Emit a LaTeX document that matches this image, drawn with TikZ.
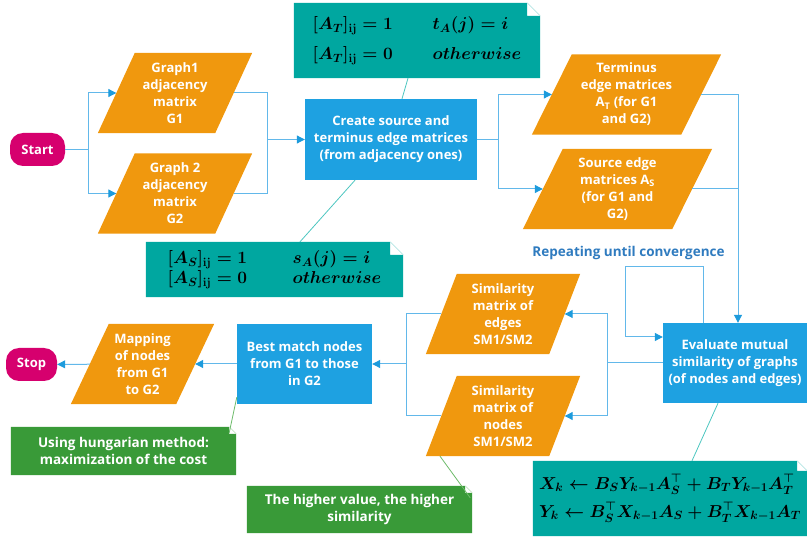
\documentclass[tikz,border=0pt]{standalone}
\usepackage[no-math]{fontspec}
\setmainfont{Open Sans}
\usetikzlibrary{arrows.meta,backgrounds,calc}
\definecolor{cOrange}{HTML}{F0980E}
\definecolor{cBox}{HTML}{1EA1E1}
\definecolor{cTeal}{HTML}{00A7A0}
\definecolor{cGreen}{HTML}{399A38}
\definecolor{cMag}{HTML}{D6006E}
\definecolor{cRep}{HTML}{2F7BBF}
\definecolor{cLine}{HTML}{62B8EA}
\definecolor{cArrow}{HTML}{1D9BDC}
\definecolor{cTline}{HTML}{4CC6C0}
\definecolor{cGline}{HTML}{6DBB6A}
\newcommand\dogear[3]{%
  \begin{scope}[on background layer]
    \fill[#2] (#1.south west) -- (#1.north west) -- ([xshift=-#3pt]#1.north east)
      -- ([shift={(-#3pt,-#3pt)}]#1.north east) -- ([yshift=-#3pt]#1.north east)
      -- (#1.south east) -- cycle;
    \draw[#2!30, line width=0.6pt] ([xshift=-#3pt]#1.north east) -- ([yshift=-#3pt]#1.north east);
  \end{scope}}
% parallelogram fill behind a rectangle node whose width is the mid-height width
\newcommand\para[2]{%
  \begin{scope}[on background layer]
    \fill[cOrange] ([xshift=-#2/2]#1.south west) -- ([xshift=#2/2]#1.north west)
      -- ([xshift=#2/2]#1.north east) -- ([xshift=-#2/2]#1.south east) -- cycle;
  \end{scope}}
\begin{document}
\begin{tikzpicture}[x=1pt,y=-1pt,
  txt/.style={font=\fontsize{13}{17}\selectfont\bfseries, text=white, align=center},
  termbox/.style={txt, rectangle, rounded corners=13pt, fill=cMag, minimum height=33pt, inner sep=0pt},
  proc/.style={txt, rectangle, fill=cBox, inner sep=0pt},
  data/.style={txt, rectangle, inner sep=0pt, minimum height=80pt},
  note/.style={inner sep=0pt, align=left, text=black},
  gnote/.style={txt, font=\fontsize{13.5}{17}\selectfont\bfseries, inner sep=0pt},
  conn/.style={draw=cLine, line width=1pt},
  arr/.style={conn, -{Triangle[length=8pt,width=8pt,color=cArrow]}},
  tline/.style={draw=cTline, line width=0.8pt},
  gline/.style={draw=cGline, line width=0.8pt}
]
\useasboundingbox (0,0) rectangle (807,540);

% terminals
\node[termbox, minimum width=55pt] (start) at (37.5,149.5) {Start};
\node[termbox, minimum width=51pt] (stop) at (31.5,364.5) {Stop};

% data parallelograms
\node[data, minimum width=117pt] (g1) at (175,93) {Graph1\\adjacency\\matrix\\G1};
\para{g1}{37pt}
\node[data, minimum width=117pt] (g2) at (175,193.5) {Graph 2\\adjacency\\matrix\\G2};
\para{g2}{37pt}
\node[data, minimum width=149pt] (term) at (626.5,94.5) {Terminus\\edge matrices\\A\textsubscript{T} (for G1\\and G2)};
\para{term}{40pt}
\node[data, minimum width=149pt] (src) at (617.5,189) {Source edge\\matrices A\textsubscript{S}\\(for G1 and\\G2)};
\para{src}{40pt}
\node[data, minimum width=123pt] (sime) at (503,314) {Similarity\\matrix of\\edges\\SM1/SM2};
\para{sime}{31pt}
\node[data, minimum width=123pt] (simn) at (503,416) {Similarity\\matrix of\\nodes\\SM1/SM2};
\para{simn}{31pt}
\node[data, minimum width=105pt] (map) at (142.5,364) {Mapping\\of nodes\\from G1\\to G2};
\para{map}{38pt}

% process boxes
\node[proc, minimum width=172pt, minimum height=81pt] (create) at (391,139.5) {Create source and\\terminus edge matrices\\(from adjacency ones)};
\node[proc, minimum width=144pt, minimum height=80pt] (eval) at (735,363) {Evaluate mutual\\similarity of graphs\\(of nodes and edges)};
\node[proc, minimum width=135pt, minimum height=80pt] (best) at (304.5,364) {Best match nodes\\from G1 to those\\in G2};

% notes
\node[note, minimum width=246pt, minimum height=75pt, font=\fontsize{17}{30}\selectfont\boldmath] (tnote) at (417,40.5)
  {\makebox[120pt][l]{$[A_T]_{\mathrm{ij}}=1$}$t_A(j)=i$\\\makebox[120pt][l]{$[A_T]_{\mathrm{ij}}=0$}$otherwise$};
\dogear{tnote}{cTeal}{13}
\node[note, minimum width=257pt, minimum height=55pt, font=\fontsize{17}{20}\selectfont\boldmath] (snote) at (274.5,269.5)
  {\makebox[125pt][l]{$[A_S]_{\mathrm{ij}}=1$}$s_A(j)=i$\\\makebox[125pt][l]{$[A_S]_{\mathrm{ij}}=0$}$otherwise$};
\dogear{snote}{cTeal}{13}
\node[note, minimum width=274pt, minimum height=75pt, font=\fontsize{18}{28}\selectfont\boldmath] (xnote) at (670,498.5)
  {$X_k\leftarrow B_SY_{k-1}A_S^{\top}+B_TY_{k-1}A_T^{\top}$\\$Y_k\leftarrow B_S^{\top}X_{k-1}A_S+B_T^{\top}X_{k-1}A_T$};
\dogear{xnote}{cTeal}{10}
\node[gnote, minimum width=225pt, minimum height=48pt] (gn1) at (123.5,451) {Using hungarian method:\\maximization of the cost};
\dogear{gn1}{cGreen}{7}
\node[gnote, minimum width=225pt, minimum height=47pt] (gn2) at (359.5,509.5) {The higher value, the higher\\similarity};
\dogear{gn2}{cGreen}{7}

\node[font=\fontsize{13.5}{16}\selectfont\bfseries, text=cRep, inner sep=0pt] (rep) at (628.5,253) {Repeating until convergence};

% junction coordinates
\coordinate (s1) at (88,149.5);
\coordinate (j1a) at (267,93);
\coordinate (j1b) at (267,193.5);
\coordinate (j1) at (267,139.5);
\coordinate (s2) at (498,139.5);
\coordinate (j3a) at (738,94.5);
\coordinate (j3b) at (738,189);
\coordinate (L1) at (703,267);
\coordinate (L2) at (625,267);
\coordinate (L3) at (625,337);
\coordinate (j4) at (607,363);
\coordinate (j5a) at (406,314);
\coordinate (j5b) at (406,416);
\coordinate (j5) at (406,364);

% connectors
\draw[conn] (start) -- (s1);
\draw[arr] (s1) |- (g1);
\draw[arr] (s1) |- (g2);
\draw[conn] (g1) -- (j1a) -- (j1b) -- (g2);
\draw[arr] (j1) -- (create);
\draw[conn] (create) -- (s2);
\draw[arr] (s2) |- (term);
\draw[arr] (s2) |- (src);
\draw[conn] (term) -- (j3a) -- (j3b) -- (src);
\draw[arr] (j3b) -- (j3b |- eval.north);
\draw[arr] (L1 |- eval.north) -- (L1) -- (L2) -- (L3) -- (L3 -| eval.west);
\draw[conn] (eval) -- (j4);
\draw[arr] (j4) |- (sime);
\draw[arr] (j4) |- (simn);
\draw[conn] (sime) -- (j5a) -- (j5b) -- (simn);
\draw[arr] (j5) -- (best);
\draw[arr] (best) -- (map);
\draw[arr] (map) -- (stop);

% note connectors
\draw[tline] ([xshift=-9pt]tnote.south) -- ([xshift=11pt]create.north);
\draw[tline] ([xshift=25.5pt]snote.north) -- ([xshift=-36pt]create.south);
\draw[tline] ([xshift=-17pt]eval.south) -- ([xshift=22pt]xnote.north);
\draw[gline] ([shift={(-7pt,-6pt)}]gn1.north east) -- ([yshift=7pt]best.south west);
\draw[gline] ([xshift=-63pt]simn.south) -- ([shift={(-2pt,-12pt)}]gn2.north east);
\end{tikzpicture}
\end{document}
